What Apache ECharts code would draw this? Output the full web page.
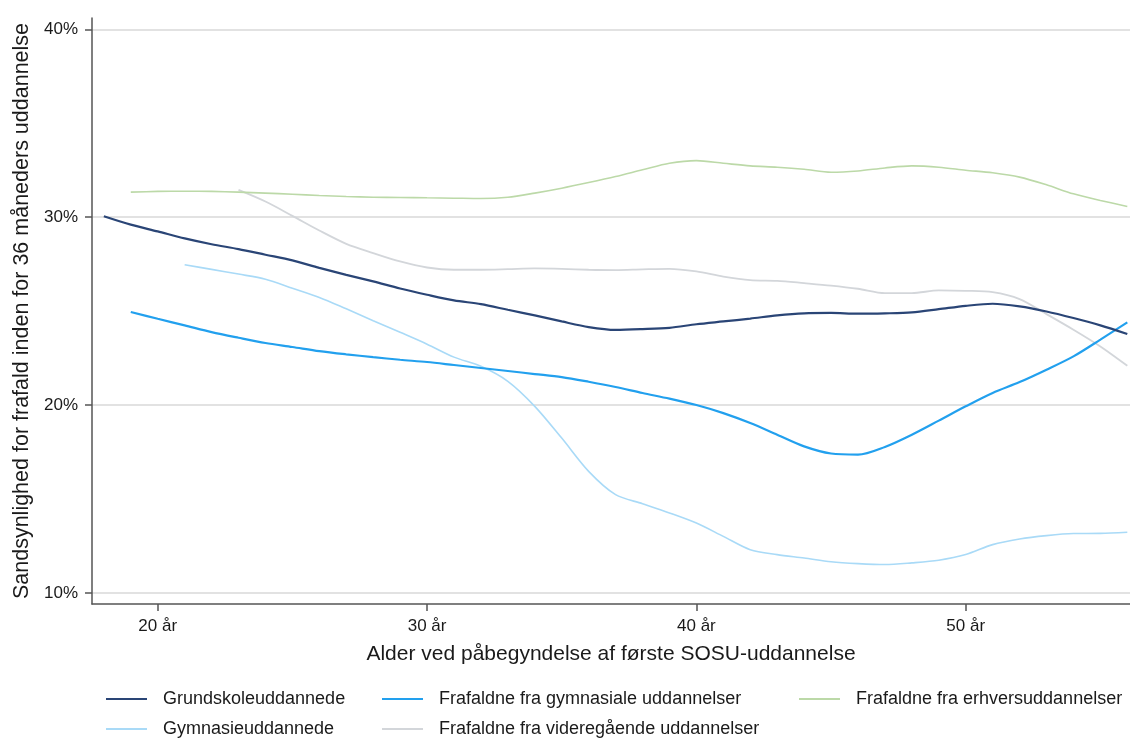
<!DOCTYPE html>
<html>
<head>
<meta charset="utf-8">
<script src="https://cdn.jsdelivr.net/npm/echarts@6/dist/echarts.min.js"></script>
<style>
  html, body { margin: 0; padding: 0; background: #fff; }
  #main { width: 1130px; height: 740px; }
</style>
</head>
<body>
<div id="main"></div>
<script>
// alder (år) 18..56
const ages = [18, 19, 20, 21, 22, 23, 24, 25, 26, 27, 28, 29, 30, 31, 32, 33, 34, 35, 36, 37,
  38, 39, 40, 41, 42, 43, 44, 45, 46, 47, 48, 49, 50, 51, 52, 53, 54, 55, 56];

const grundskole = [30.05, 29.6, 29.24, 28.87, 28.56, 28.3, 28.0, 27.7, 27.3, 26.93, 26.58, 26.2, 25.87, 25.57, 25.37, 25.07, 24.77, 24.45, 24.15, 24.0,
  24.04, 24.11, 24.3, 24.45, 24.6, 24.77, 24.88, 24.9, 24.86, 24.88, 24.93, 25.1, 25.28, 25.39, 25.25, 24.98, 24.63, 24.24, 23.78];

const fraGymnasiale = [null, 24.95, 24.59, 24.24, 23.88, 23.58, 23.3, 23.09, 22.87, 22.7, 22.55, 22.41, 22.29, 22.13, 21.97, 21.81, 21.65, 21.49, 21.24, 20.96,
  20.64, 20.34, 20.0, 19.57, 19.04, 18.42, 17.8, 17.42, 17.36, 17.77, 18.42, 19.17, 19.93, 20.64, 21.22, 21.88, 22.59, 23.48, 24.4];

const fraErhverv = [null, 31.33, 31.37, 31.38, 31.37, 31.33, 31.28, 31.22, 31.15, 31.1, 31.06, 31.05, 31.03, 31.01, 30.99, 31.06, 31.28, 31.54, 31.84, 32.16,
  32.52, 32.87, 33.01, 32.87, 32.73, 32.66, 32.55, 32.39, 32.46, 32.62, 32.73, 32.66, 32.5, 32.36, 32.13, 31.72, 31.24, 30.89, 30.57];

const gymnasie = [null, null, null, 27.47, 27.22, 26.97, 26.7, 26.22, 25.73, 25.12, 24.49, 23.87, 23.24, 22.55, 22.06, 21.26, 19.93, 18.24, 16.47, 15.23,
  14.75, 14.26, 13.72, 13.01, 12.3, 12.04, 11.86, 11.66, 11.56, 11.51, 11.6, 11.74, 12.04, 12.57, 12.87, 13.05, 13.16, 13.17, 13.23];

const fraVideregaaende = [null, null, null, null, null, 31.45, 30.83, 30.07, 29.29, 28.58, 28.09, 27.64, 27.32, 27.2, 27.2, 27.23, 27.27, 27.25, 27.2, 27.18,
  27.22, 27.25, 27.11, 26.84, 26.65, 26.61, 26.49, 26.36, 26.19, 25.96, 25.96, 26.1, 26.08, 26.01, 25.64, 24.84, 24.01, 23.12, 22.09];

const seriesNames = ['Grundskoleuddannede', 'Frafaldne fra gymnasiale uddannelser', 'Frafaldne fra erhversuddannelser',
  'Gymnasieuddannede', 'Frafaldne fra videregående uddannelser'];
const seriesValues = [grundskole, fraGymnasiale, fraErhverv, gymnasie, fraVideregaaende];

const xTicks = [20, 30, 40, 50];
const yTicks = [10, 20, 30, 40];

const colors = ['#2a4576', '#22a0ee', '#bcd9a8', '#a9daf7', '#d3d6da'];
const widths = [2.2, 2.2, 1.6, 1.6, 1.8];

const font = 'Liberation Sans, Arial, sans-serif';

var myChart = echarts.init(document.getElementById('main'));

// legend placement, two rows / three columns
const legendPos = [[106, 690], [382, 690], [799, 690], [106, 720], [382, 720]];

const series = seriesNames.map(function (name, i) {
  return {
    name: name,
    type: 'line',
    smooth: 0.3,
    symbol: 'none',
    lineStyle: { color: colors[i], width: widths[i] },
    itemStyle: { color: colors[i] },
    z: 10 - i,
    data: ages.map(function (a, k) { return seriesValues[i][k] == null ? null : [a, seriesValues[i][k]]; })
      .filter(function (p) { return p !== null; })
  };
});

const legends = seriesNames.map(function (name, i) {
  return {
    left: legendPos[i][0],
    top: legendPos[i][1],
    padding: 0,
    icon: 'rect',
    itemWidth: 41,
    itemHeight: 2,
    selectedMode: false,
    data: [name],
    textStyle: { fontFamily: font, fontSize: 18, color: '#1a1a1a', padding: [0, 0, 0, 11] }
  };
});

myChart.setOption({
  animation: false,
  backgroundColor: '#fff',
  grid: { left: 92, right: 0, top: 18, bottom: 136 },
  legend: legends,
  xAxis: {
    type: 'value',
    min: 17.56,
    max: 56.1,
    name: 'Alder ved påbegyndelse af første SOSU-uddannelse',
    nameLocation: 'middle',
    nameGap: 40,
    nameTextStyle: { fontFamily: font, fontSize: 21, color: '#1a1a1a' },
    axisLine: { lineStyle: { color: '#555', width: 1.5 } },
    axisTick: { customValues: xTicks, length: 7, lineStyle: { color: '#555', width: 1.5 } },
    axisLabel: {
      customValues: xTicks,
      margin: 14,
      fontFamily: font, fontSize: 17, color: '#1a1a1a',
      formatter: function (v) { return v + ' år'; }
    },
    splitLine: { show: false }
  },
  yAxis: {
    type: 'value',
    min: 9.41,
    max: 40.6,
    name: 'Sandsynlighed for frafald inden for 36 måneders uddannelse',
    nameLocation: 'middle',
    nameGap: 52,
    nameTextStyle: { fontFamily: font, fontSize: 21.5, color: '#1a1a1a' },
    axisLine: { show: true, lineStyle: { color: '#555', width: 1.5 } },
    axisTick: { show: true, customValues: yTicks, length: 7, lineStyle: { color: '#555', width: 1.5 } },
    axisLabel: {
      customValues: yTicks,
      margin: 14,
      fontFamily: font, fontSize: 17, color: '#1a1a1a',
      formatter: function (v) { return v + '%'; }
    },
    splitLine: { show: true, lineStyle: { color: '#d9d9d9', width: 1.5 } }
  },
  series: series
});
</script>
</body>
</html>
